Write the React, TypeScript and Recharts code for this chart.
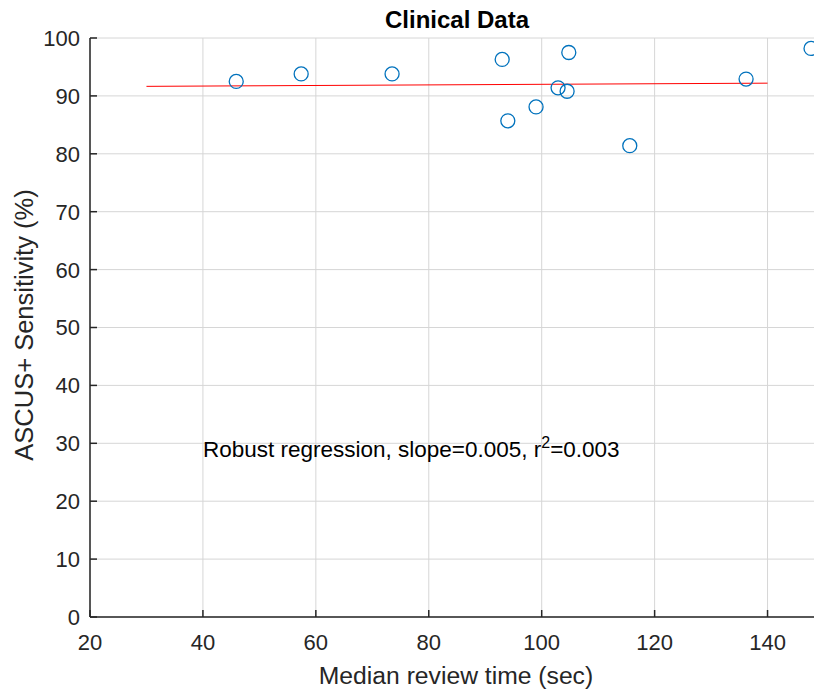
import { ScatterChart, Scatter, XAxis, YAxis, CartesianGrid, ReferenceLine, ReferenceDot } from 'recharts'

const reviewTime = [45.9, 57.4, 73.5, 93.0, 94.0, 99.0, 102.9, 104.5, 104.8, 115.6, 136.2, 147.7]
const sensitivity = [92.5, 93.8, 93.8, 96.3, 85.7, 88.1, 91.4, 90.8, 97.5, 81.4, 92.9, 98.2]
const fitX = [30, 140]
const fitY = [91.65, 92.2]
const xTicks = [20, 40, 60, 80, 100, 120, 140]
const yTicks = [0, 10, 20, 30, 40, 50, 60, 70, 80, 90, 100]

const points = reviewTime.map((x, i) => ({ x, y: sensitivity[i] }))
const fitSegment = fitX.map((x, i) => ({ x, y: fitY[i] }))

const FONT = '"Liberation Sans", Arial, Helvetica, sans-serif'
const AXIS = '#262626'

const XTick = (props: any) => {
  const { x, y, payload } = props
  return (
    <g>
      <line x1={x} y1={y} x2={x} y2={y - 7} stroke={AXIS} strokeWidth={1.5} />
      <text x={x} y={y + 33} textAnchor="middle" fontSize={22} fill={AXIS} fontFamily={FONT}>
        {payload.value}
      </text>
    </g>
  )
}

const YTick = (props: any) => {
  const { x, y, payload } = props
  return (
    <g>
      <line x1={x} y1={y} x2={x + 7} y2={y} stroke={AXIS} strokeWidth={1.5} />
      <text x={x - 10} y={y} dy="0.36em" textAnchor="end" fontSize={22} fill={AXIS} fontFamily={FONT}>
        {payload.value}
      </text>
    </g>
  )
}

const Ring = (props: any) => (
  <circle cx={props.cx} cy={props.cy} r={7} fill="none" stroke="#0072BD" strokeWidth={1.3} />
)

export default function App() {
  return (
    <div style={{ position: 'absolute', left: 0, top: 0, width: 814, height: 692, overflow: 'hidden', background: '#fff' }}>
      <ScatterChart width={830} height={692} margin={{ top: 38, right: 6, bottom: 0, left: 0 }}>
        <CartesianGrid stroke="#d6d6d6" strokeWidth={1} />
        <XAxis
          type="number"
          dataKey="x"
          domain={[20, 150]}
          ticks={xTicks}
          height={75}
          tickSize={0}
          tickMargin={0}
          tick={<XTick />}
          axisLine={{ stroke: AXIS, strokeWidth: 1.5 }}
          tickLine={false}
          allowDataOverflow
          label={{
            content: () => (
              <text x={456} y={684} textAnchor="middle" fontSize={24.7} fill={AXIS} fontFamily={FONT}>
                Median review time (sec)
              </text>
            ),
          }}
        />
        <YAxis
          type="number"
          dataKey="y"
          domain={[0, 100]}
          ticks={yTicks}
          width={90}
          tickSize={0}
          tickMargin={0}
          tick={<YTick />}
          axisLine={{ stroke: AXIS, strokeWidth: 1.5 }}
          tickLine={false}
          label={{
            content: () => (
              <g>
                <text
                  x={33}
                  y={325}
                  transform="rotate(-90 33 325)"
                  textAnchor="middle"
                  fontSize={25.5}
                  fill={AXIS}
                  fontFamily={FONT}
                >
                  ASCUS+ Sensitivity (%)
                </text>
                <text x={457} y={28} textAnchor="middle" fontSize={24} fontWeight="bold" fill="#000" fontFamily={FONT}>
                  Clinical Data
                </text>
              </g>
            ),
          }}
        />
        <ReferenceLine segment={fitSegment} stroke="#ff0000" strokeWidth={1} ifOverflow="visible" />
        <Scatter data={points} shape={<Ring />} isAnimationActive={false} />
        <ReferenceDot
          x={40}
          y={29}
          r={0}
          fill="none"
          stroke="none"
          label={{
            content: (p: any) => {
              const vb = p.viewBox || {}
              const cx = vb.x !== undefined ? vb.x + (vb.width || 0) / 2 : 0
              const cy = vb.y !== undefined ? vb.y + (vb.height || 0) / 2 : 0
              return (
                <text x={cx} y={cy} dy="0.36em" fontSize={22.5} fill="#000" fontFamily={FONT}>
                  Robust regression, slope=0.005, r
                  <tspan dy={-9} fontSize={16}>2</tspan>
                  <tspan dy={9}>=0.003</tspan>
                </text>
              )
            },
          }}
        />
      </ScatterChart>
    </div>
  )
}
